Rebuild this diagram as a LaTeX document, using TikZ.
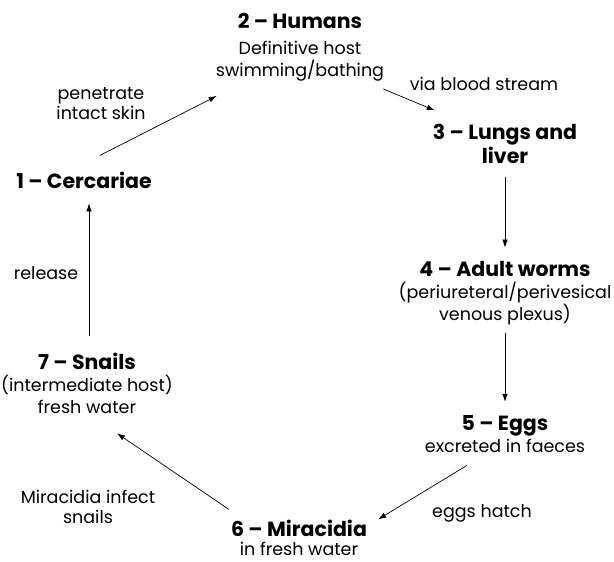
\documentclass[tikz,border=0pt]{standalone}
\usepackage{fontspec}
\setmainfont{Poppins}
\usetikzlibrary{arrows.meta}
\newcommand{\stname}[1]{{\fontsize{20.5}{22}\selectfont\bfseries #1}}

\begin{document}
\begin{tikzpicture}[x=1pt, y=-1pt,
		stage/.style={align=center, inner sep=0pt, anchor=base, font=\fontsize{17.5}{22}\selectfont},
		note/.style={align=center, inner sep=0pt, anchor=base, font=\fontsize{17.5}{20}\selectfont},
		cycle/.style={-{Latex[length=8pt,width=5.5pt]}, line width=0.7pt}]
	\useasboundingbox (0,0) rectangle (614,562);
	% stages of the cycle (anchored at the baseline of the last line)
	\node[stage] (s1) at (84,188) {\stname{1 – Cercariae}};
	\node[stage] (s2) at (300,76) {\stname{2 – Humans}\\[4pt]Definitive host\\swimming/bathing};
	\node[stage] (s3) at (505,163) {\stname{3 – Lungs and}\\\stname{liver}};
	\node[stage] (s4) at (505,320) {\stname{4 – Adult worms}\\(periureteral/perivesical\\venous plexus)};
	\node[stage] (s5) at (505,452) {\stname{5 – Eggs}\\excreted in faeces};
	\node[stage] (s6) at (299,555) {\stname{6 – Miracidia}\\[-3pt]in fresh water};
	\node[stage] (s7) at (87,413) {\stname{7 – Snails}\\(intermediate host)\\fresh water};
	
	\node[note] (l12) at (101,119) {penetrate\\intact skin};
	\node[note] (l23) at (484,90) {via blood stream};
	\node[note] (l56) at (482,517) {eggs hatch};
	\node[note] (l67) at (88,523) {Miracidia infect\\snails};
	\node[note] (l71) at (46,279) {release};
	
	\draw[cycle] ([xshift=16pt,yshift=16pt]s1.north) -- ([xshift=1pt,yshift=-15pt]s2.south west);
	\draw[cycle] ([xshift=-1pt,yshift=-8pt]s2.south east) -- ([xshift=2pt,yshift=14pt]s3.north west);
	\draw[cycle] ([yshift=-14pt]s3.south) -- ([yshift=13pt]s4.north);
	\draw[cycle] ([yshift=-8pt]s4.south) -- ([yshift=13pt]s5.north);
	\draw[cycle] ([xshift=-38pt,yshift=-13pt]s5.south) -- ([xshift=11pt,yshift=0pt]s6.north east);
	\draw[cycle] ([xshift=-2pt,yshift=10pt]s6.north west) -- ([xshift=30pt,yshift=-20pt]s7.south);
	\draw[cycle] ([xshift=2pt,yshift=16pt]s7.north) -- ([xshift=5pt,yshift=-15pt]s1.south);
\end{tikzpicture}
\end{document}
